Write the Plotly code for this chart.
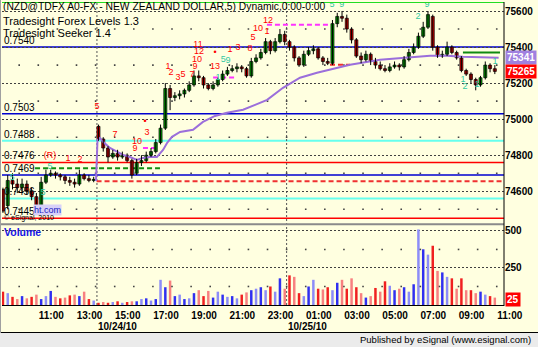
import plotly.graph_objects as go

# ---------------- data ----------------
# bar times in hours after 00:00 of 10/24/10 (15-minute bars)
bar_start = 9.15
bar_step = 0.25

opens = [74610, 74520, 74660, 74640, 74620, 74640, 74600, 74570, 74520, 74650,
         74690, 74700, 74690, 74680, 74660, 74650, 74640, 74690, 74670, 74660,
         74960, 74890, 74840, 74790, 74810, 74790, 74800, 74770, 74700, 74760,
         74770, 74800, 74820, 74870, 74950, 75170, 75120, 75130, 75140, 75160,
         75190, 75240, 75230, 75190, 75170, 75190, 75220, 75250, 75270, 75280,
         75290, 75280, 75240, 75320, 75340, 75370, 75430, 75380, 75430, 75470,
         75430, 75400, 75340, 75300, 75360, 75380, 75390, 75340, 75320, 75310,
         75530, 75570, 75560, 75500, 75440, 75350, 75330, 75360, 75320, 75300,
         75280, 75270, 75290, 75300, 75290, 75330, 75370, 75400, 75460, 75510,
         75570, 75400, 75350, 75360, 75400, 75370, 75340, 75270, 75250, 75220,
         75190, 75230, 75300, 75280]
highs = [74620, 74690, 74700, 74670, 74670, 74660, 74620, 74590, 74680, 74720,
         74720, 74710, 74700, 74690, 74680, 74670, 74720, 74700, 74690, 74680,
         74970, 74900, 74850, 74830, 74830, 74820, 74810, 74780, 74780, 74800,
         74820, 74840, 74890, 74970, 75200, 75190, 75150, 75160, 75170, 75210,
         75270, 75270, 75240, 75200, 75210, 75230, 75270, 75290, 75300, 75310,
         75300, 75290, 75340, 75360, 75390, 75450, 75440, 75450, 75500, 75490,
         75440, 75410, 75350, 75380, 75400, 75410, 75400, 75350, 75340, 75550,
         75590, 75600, 75580, 75510, 75450, 75370, 75380, 75370, 75340, 75320,
         75300, 75310, 75320, 75310, 75350, 75390, 75420, 75480, 75540, 75600,
         75580, 75410, 75380, 75430, 75410, 75380, 75350, 75280, 75260, 75230,
         75240, 75320, 75310, 75300]
lows = [74480, 74500, 74610, 74590, 74600, 74580, 74550, 74500, 74510, 74640,
        74680, 74670, 74660, 74640, 74630, 74620, 74630, 74660, 74650, 74650,
        74880, 74820, 74760, 74780, 74770, 74780, 74760, 74670, 74690, 74740,
        74760, 74790, 74810, 74860, 74940, 75050, 75100, 75110, 75120, 75150,
        75180, 75210, 75170, 75160, 75160, 75180, 75210, 75240, 75260, 75260,
        75260, 75230, 75230, 75310, 75330, 75360, 75360, 75370, 75420, 75410,
        75380, 75320, 75290, 75290, 75350, 75360, 75330, 75300, 75300, 75300,
        75510, 75540, 75480, 75420, 75340, 75310, 75320, 75300, 75280, 75270,
        75260, 75260, 75280, 75270, 75280, 75320, 75360, 75390, 75450, 75500,
        75380, 75340, 75340, 75350, 75360, 75330, 75260, 75240, 75200, 75160,
        75180, 75220, 75260, 75250]
closes = [74490, 74660, 74640, 74620, 74640, 74600, 74570, 74520, 74650, 74690,
          74700, 74690, 74680, 74660, 74650, 74640, 74690, 74670, 74660, 74660,
          74890, 74840, 74790, 74810, 74790, 74800, 74770, 74690, 74760, 74770,
          74800, 74820, 74870, 74950, 75170, 75120, 75130, 75140, 75160, 75190,
          75240, 75230, 75190, 75170, 75190, 75220, 75250, 75270, 75280, 75290,
          75280, 75240, 75320, 75340, 75370, 75430, 75380, 75430, 75470, 75430,
          75400, 75340, 75300, 75360, 75380, 75390, 75340, 75320, 75310, 75530,
          75570, 75560, 75500, 75440, 75350, 75330, 75360, 75320, 75300, 75280,
          75270, 75290, 75300, 75290, 75330, 75370, 75400, 75460, 75510, 75580,
          75400, 75350, 75360, 75400, 75370, 75340, 75270, 75250, 75220, 75190,
          75230, 75300, 75280, 75265]
volumes = [90, 80, 55, 40, 60, 45, 55, 70, 40, 60,
           95, 55, 45, 50, 65, 70, 60, 90, 40, 30,
           15, 20, 15, 20, 25, 15, 20, 25, 25, 40,
           45, 30, 40, 170, 120, 165, 60, 70, 40, 45,
           80, 100, 60, 95, 50, 90, 70, 55, 60, 45,
           70, 85, 100, 110, 120, 100, 125, 90, 180, 110,
           200, 190, 80, 60, 125, 170, 110, 105, 120, 100,
           150, 170, 110, 180, 120, 80, 50, 60, 115, 90,
           160, 130, 100, 110, 120, 90, 140, 510, 376, 340,
           400, 230, 220, 190, 180, 110, 180, 100, 100, 80,
           90, 70, 60, 50]

# moving average (purple)
ma_t = [14.02, 14.10, 14.23, 14.39, 14.75, 15.12, 15.43, 15.80, 16.16, 16.48,
        16.84, 17.21, 17.53, 17.74, 18.00, 18.42, 19.10, 19.62, 20.25, 20.88,
        21.72, 22.35, 22.98, 23.81, 24.70, 25.59, 26.64, 27.32, 28.89, 30.46,
        31.51, 32.40, 33.23, 35.10]
ma_v = [74657, 74885, 74896, 74874, 74840, 74818, 74802, 74790, 74774, 74785,
        74790, 74790, 74829, 74868, 74902, 74929, 74941, 74985, 75018, 75035,
        75052, 75079, 75107, 75174, 75230, 75257, 75285, 75302, 75330, 75343,
        75352, 75352, 75346, 75341]

# full-width levels
level_vals = [75400, 75030, 74880, 74760, 74690, 74560, 74450]
level_text = ["0.7540", "0.7503", "0.7488", "0.7476", "0.7469", "0.7456", "0.7445"]
level_kind = ["blue", "blue", "cyan", "red", "blue", "cyan", "red"]
top_level = 75650

# partial levels: (start hour, end hour, value, kind)
seg_t0 = [14.05, 10.83, 22.97, 20.15, 16.48, 26.27, 33.23]
seg_t1 = [35.38, 17.37, 26.27, 21.30, 17.21, 27.32, 35.17]
seg_val = [74655, 74728, 75524, 75231, 74840, 75302, 75370]
seg_kind = ["reddash", "greendash", "magdash", "magdash", "magdash", "reddash", "green"]

# seeker counts
red_t = [14.08, 15.02, 16.59, 16.69, 16.17, 16.06, 11.61, 12.55, 13.18, 17.79,
         17.95, 18.31, 18.58, 19.05, 19.20, 19.31, 19.36, 19.41, 20.25, 20.25,
         21.04, 21.46, 22.09, 22.24, 22.50, 22.97, 23.03]
red_p = [75068, 74913, 74985, 74924, 74874, 74835, 74796, 74779, 74774, 75291,
         75257, 75229, 75246, 75246, 75291, 75329, 75413, 75374, 75368, 75291,
         75385, 75396, 75391, 75452, 75502, 75485, 75546]
red_s = ["5", "7", "•", "3", "10", "9", "(R)", "1", "2", "1",
         "2", "3", "5", "7", "9", "10", "11", "12", "•", "13",
         "1", "3", "8", "5", "10", "1", "12"]
cyan_t = [20.68, 20.93, 20.41, 26.37, 26.89, 31.35, 30.88, 33.23, 33.34, 33.97,
          34.91, 9.62, 11.61, 11.25]
cyan_p = [75329, 75324, 75229, 75635, 75635, 75635, 75568, 75218, 75179, 75190,
          75318, 74674, 74735, 74591]
cyan_s = ["5", "9", "1", "5", "9", "9", "2", "1", "2", "1",
          "1", "5", "5", "5"]

price_ticks = [74600, 74800, 75000, 75200, 75400, 75600]
price_labels = ["74600", "74800", "75000", "75200", "75400", "75600"]
vol_ticks = [250, 500]
vol_labels = ["250", "500"]
time_ticks = [11, 13, 15, 17, 19, 21, 23, 25, 27, 29, 31, 33, 35]
time_labels = ["11:00", "13:00", "15:00", "17:00", "19:00", "21:00", "23:00",
               "01:00", "03:00", "05:00", "07:00", "09:00", "11:00"]
day_breaks = [14.07, 24.0]
day_labels = ["10/24/10", "10/25/10"]
last_price, last_ma, last_vol = 75265, 75341, 25

# ---------------- layout helpers ----------------
W, H = 538, 347
ML, MR, MT, MB = 2, 34, 2, 42
PW, PH = W - ML - MR, H - MT - MB
T_LO, T_HI = 9.10, 35.38
P_LO, P_HI = 74420, 75650
FONT = "Liberation Sans, Arial, sans-serif"
BG = "#FFFFE0"


def fx(px):
    return (px - ML) / PW


def fy(py):
    return (H - MB - py) / PH


times = [bar_start + bar_step * i for i in range(len(closes))]

fig = go.Figure()

# hourly grid dots
dot_x, dot_y = [], []
for h in range(10, 36):
    for v in range(74500, 75600, 200):
        dot_x.append(h); dot_y.append(v)
fig.add_trace(go.Scatter(x=dot_x, y=dot_y, mode="markers", yaxis="y",
                         marker=dict(size=1.6, color="#444444", symbol="square"),
                         hoverinfo="skip", showlegend=False))
vdx, vdy = [], []
for h in range(10, 36):
    for v in (125, 375):
        vdx.append(h); vdy.append(v)
fig.add_trace(go.Scatter(x=vdx, y=vdy, mode="markers", yaxis="y2",
                         marker=dict(size=1.6, color="#444444", symbol="square"),
                         hoverinfo="skip", showlegend=False))

# moving average
fig.add_trace(go.Scatter(x=ma_t, y=ma_v, mode="lines", yaxis="y",
                         line=dict(color="#9B6FDB", width=2),
                         hoverinfo="skip", showlegend=False))

# candle wicks
wx, wy = [], []
for t, h_, l_ in zip(times, highs, lows):
    wx += [t, t, None]
    wy += [l_, h_, None]
fig.add_trace(go.Scatter(x=wx, y=wy, mode="lines", yaxis="y",
                         line=dict(color="#000000", width=1),
                         hoverinfo="skip", showlegend=False))

# candle bodies
bases = [min(o, c) for o, c in zip(opens, closes)]
heights = [max(abs(c - o), 6) for o, c in zip(opens, closes)]
ccols = ["#00A800" if c >= o else "#E00000" for o, c in zip(opens, closes)]
fig.add_trace(go.Bar(x=times, y=heights, base=bases, width=0.16, yaxis="y",
                     marker=dict(color=ccols, line=dict(color="#000000", width=0.7)),
                     hoverinfo="skip", showlegend=False))

# volume
vcols = []
for i, (o, c) in enumerate(zip(opens, closes)):
    up = c >= o
    if i % 2 == 0:
        vcols.append("#3030F0" if up else "#F02020")
    else:
        vcols.append("#8C8CF8" if up else "#F88080")
fig.add_trace(go.Bar(x=times, y=volumes, width=0.13, yaxis="y2",
                     marker=dict(color=vcols, line=dict(width=0)),
                     hoverinfo="skip", showlegend=False))

# seeker labels
fig.add_trace(go.Scatter(x=red_t, y=red_p, mode="text", text=red_s, yaxis="y",
                         textfont=dict(family=FONT, size=9, color="#FF0000"),
                         hoverinfo="skip", showlegend=False))
fig.add_trace(go.Scatter(x=cyan_t, y=cyan_p, mode="text", text=cyan_s, yaxis="y",
                         textfont=dict(family=FONT, size=9, color="#33C8A0"),
                         hoverinfo="skip", showlegend=False))

shapes = []
kind_style = {
    "blue": dict(color="#0000D0", width=1.5, dash="solid"),
    "cyan": dict(color="#66FFEE", width=2, dash="solid"),
    "red": dict(color="#FF0000", width=1.5, dash="solid"),
    "reddash": dict(color="#F03030", width=2, dash="5px,3px"),
    "greendash": dict(color="#109010", width=2, dash="5px,3px"),
    "magdash": dict(color="#FF33FF", width=2, dash="5px,3px"),
    "green": dict(color="#108A10", width=2, dash="solid"),
}
for v, k in zip(level_vals, level_kind):
    shapes.append(dict(type="line", xref="paper", yref="y", x0=0, x1=1, y0=v, y1=v,
                       line=kind_style[k], layer="below"))
shapes.append(dict(type="line", xref="paper", yref="y", x0=0, x1=1, y0=top_level,
                   y1=top_level, line=dict(color="#22DD22", width=2), layer="above"))
for a, b, v, k in zip(seg_t0, seg_t1, seg_val, seg_kind):
    shapes.append(dict(type="line", xref="x", yref="y", x0=a, x1=b, y0=v, y1=v,
                       line=kind_style[k], layer="below"))
for d in day_breaks:
    shapes.append(dict(type="line", xref="x", yref="paper", x0=d, x1=d, y0=0, y1=1,
                       line=dict(color="#555555", width=1, dash="2px,2px"), layer="below"))
# panel separator, frame, footer
shapes.append(dict(type="line", xref="paper", yref="paper", x0=fx(0), x1=1,
                   y0=fy(224.3), y1=fy(224.3), line=dict(color="#8A8A8A", width=2)))
shapes.append(dict(type="line", xref="paper", yref="paper", x0=1, x1=1,
                   y0=fy(306), y1=1, line=dict(color="#000000", width=1)))
shapes.append(dict(type="rect", xref="paper", yref="paper", x0=fx(-2), x1=fx(540),
                   y0=fy(333), y1=fy(349), fillcolor="#EBEBEB", line=dict(width=0)))
shapes.append(dict(type="line", xref="paper", yref="paper", x0=fx(0), x1=fx(538),
                   y0=fy(332.5), y1=fy(332.5), line=dict(color="#000000", width=1)))
shapes.append(dict(type="line", xref="paper", yref="paper", x0=fx(0.5), x1=fx(0.5),
                   y0=fy(333), y1=1.01, line=dict(color="#A0A0A0", width=1)))

ann = []
titles = ["(NZD@TDFX A0-FX - NEW ZEALAND DOLLAR,5) Dynamic,0:00-0:00",
          "Tradesight Forex Levels 1.3", "Tradesight Seeker 1.4"]
for s, yp, fs in zip(titles, [7, 20.5, 33.5], [10.3, 11, 11]):
    ann.append(dict(text=s, xref="paper", yref="paper", x=fx(1), y=fy(yp),
                    xanchor="left", yanchor="middle", showarrow=False,
                    font=dict(family=FONT, size=fs, color="#000000")))
for v, s in zip(level_vals, level_text):
    ann.append(dict(text=s, xref="paper", yref="y", x=fx(2), y=v, xanchor="left",
                    yanchor="bottom", showarrow=False, yshift=-1,
                    font=dict(family=FONT, size=10, color="#000000")))
ann.append(dict(text="ht.com", xref="paper", yref="paper", x=fx(33), y=fy(209.5),
                xanchor="left", yanchor="middle", showarrow=False, bgcolor="#D8D0F8",
                borderpad=0, font=dict(family=FONT, size=9, color="#2020C0")))
ann.append(dict(text="© eSignal, 2010", xref="paper", yref="paper", x=fx(2), y=fy(218),
                xanchor="left", yanchor="middle", showarrow=False,
                font=dict(family=FONT, size=7, color="#000000")))
ann.append(dict(text="<b>Volume</b>", xref="paper", yref="paper", x=fx(2), y=fy(232),
                xanchor="left", yanchor="middle", showarrow=False,
                font=dict(family=FONT, size=10.5, color="#1515E6")))
for d, s in zip(day_breaks, day_labels):
    ann.append(dict(text="<b>" + s + "</b>", xref="x", yref="paper", x=d, y=fy(326),
                    xanchor="left", yanchor="middle", showarrow=False, xshift=-1,
                    font=dict(family=FONT, size=10, color="#000000")))
for v, col in ((last_ma, "#A080E0"), (last_price, "#FF0000")):
    ann.append(dict(text="<b>%d</b>" % v, xref="paper", yref="y", x=1, y=v,
                    xanchor="left", yanchor="middle", xshift=1, showarrow=False,
                    bgcolor=col, borderpad=1,
                    font=dict(family=FONT, size=10, color="#FFFFFF")))
ann.append(dict(text="<b>%d</b>" % last_vol, xref="paper", yref="y2", x=1, y=last_vol,
                xanchor="left", yanchor="middle", xshift=1, yshift=2, showarrow=False,
                bgcolor="#FF0000", borderpad=1,
                font=dict(family=FONT, size=10, color="#FFFFFF")))
ann.append(dict(text="Published by eSignal (www.esignal.com)", xref="paper", yref="paper",
                x=fx(533), y=fy(339.5), xanchor="right", yanchor="middle", showarrow=False,
                font=dict(family=FONT, size=9.5, color="#000000")))

fig.update_layout(
    width=W, height=H, margin=dict(l=ML, r=MR, t=MT, b=MB),
    paper_bgcolor=BG, plot_bgcolor=BG, barmode="overlay", showlegend=False,
    shapes=shapes, annotations=ann,
    xaxis=dict(range=[T_LO, T_HI], anchor="y2", showgrid=False, zeroline=False,
               showline=True, linecolor="#000000", linewidth=1,
               tickvals=time_ticks, ticktext=time_labels, ticks="",
               ticklabelshift=13, ticklabelstandoff=1,
               tickfont=dict(family=FONT, size=10, color="#000000", weight="bold")),
    yaxis=dict(domain=[fy(223.7), 1], range=[P_LO, P_HI], side="right", anchor="x",
               tickvals=price_ticks, ticktext=price_labels, ticks="", showgrid=True,
               gridcolor="#404040", griddash="2px,2px", gridwidth=1, zeroline=False,
               showline=False,
               tickfont=dict(family=FONT, size=10, color="#000000", weight="bold")),
    yaxis2=dict(domain=[0, fy(225)], range=[0, 540], side="right", anchor="x",
                tickvals=vol_ticks, ticktext=vol_labels, ticks="", showgrid=True,
                gridcolor="#404040", griddash="2px,2px", gridwidth=1, zeroline=False,
                showline=False,
                tickfont=dict(family=FONT, size=10, color="#000000", weight="bold")),
)

fig.write_html("out.html")
